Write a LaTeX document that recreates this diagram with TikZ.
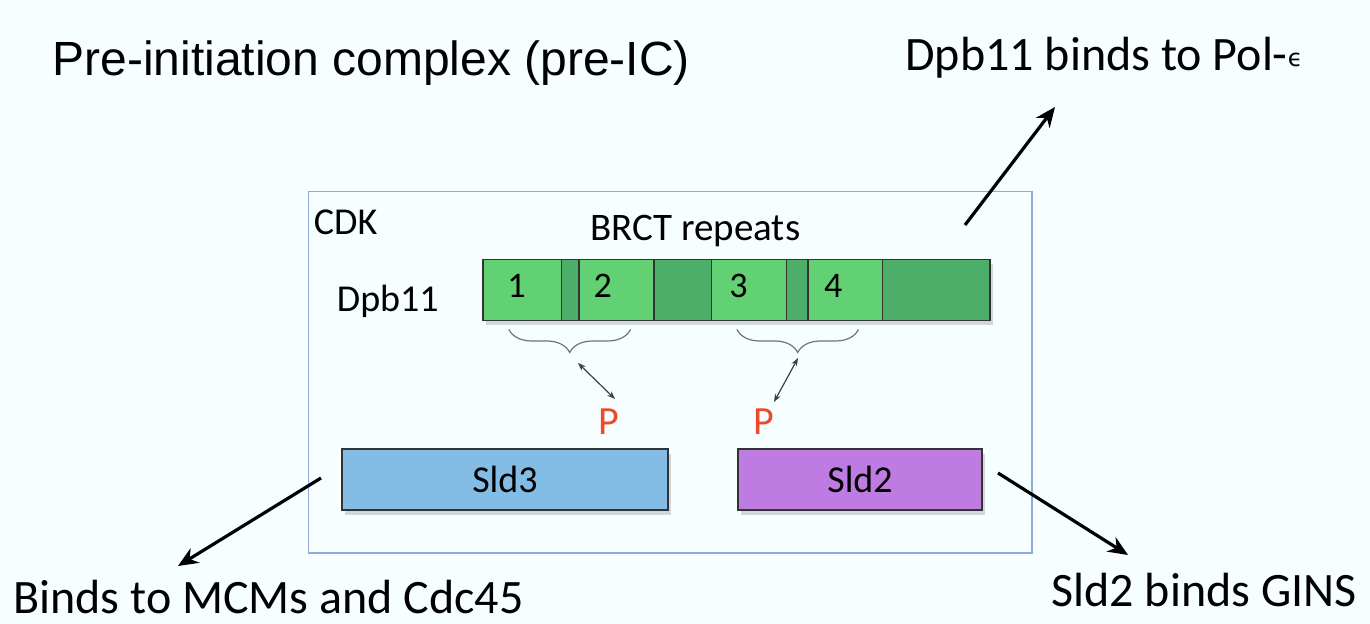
\documentclass[tikz,border=0pt]{standalone}
\usepackage{fontspec}
\setmainfont{Carlito}
\newfontfamily\arialfont{Liberation Sans}
\newfontfamily\greekfont{DejaVu Sans}
\usetikzlibrary{arrows.meta,decorations.pathreplacing,shadows}
\definecolor{bgcol}{HTML}{F6FEFF}
\definecolor{framecol}{HTML}{8FAADC}
\definecolor{lgreen}{HTML}{62D173}
\definecolor{dgreen}{HTML}{4DAE6A}
\definecolor{sldblue}{HTML}{83BDE5}
\definecolor{sldpurple}{HTML}{BE7BE2}
\definecolor{pred}{HTML}{EC4A2B}
\tikzset{
  bigarrow/.style={-{Stealth[length=10pt,width=8.5pt]}, line width=1.6pt, black},
  smallarrow/.style={{Stealth[length=4pt,width=3pt]}-{Stealth[length=4pt,width=3pt]}, line width=0.6pt, black!75},
  bracestyle/.style={decorate, decoration={brace, amplitude=11.5pt}, draw=black!55, line width=0.6pt},
  protbox/.style={draw=black!80, line width=0.7pt, minimum height=30.5pt, inner sep=0pt,
    drop shadow={opacity=0.3, shadow xshift=1.5pt, shadow yshift=-2.5pt}},
  segfill/.style={draw=black!80, line width=0.7pt},
  lab/.style={inner sep=0pt, anchor=base west},
  big/.style={font=\fontsize{24}{28}\selectfont},
  mid/.style={font=\fontsize{19}{23}\selectfont},
  num/.style={inner sep=0pt, font=\fontsize{18}{21}\selectfont},
  pstyle/.style={inner sep=0pt, text=pred, font=\fontsize{20}{24}\selectfont},
}
\begin{document}
\begin{tikzpicture}[x=0.5pt,y=-0.5pt]
\fill[bgcol] (0,0) rectangle (1370,624);
\useasboundingbox (0,0) rectangle (1370,624);

% title and outside labels
\node[lab, font=\arialfont\fontsize{24}{28}\selectfont] (title) at (52,76) {Pre-initiation complex (pre-IC)};
\node[lab, big] (polt) at (905,70.7) {Dpb11 binds to Pol-\raisebox{2pt}{\greekfont\fontsize{12}{14}\selectfont ϵ}};
\node[lab, big] (mcm) at (13,613.5) {Binds to MCMs and Cdc45};
\node[lab, big] (gins) at (1051,606.5) {Sld2 binds GINS};

% CDK frame
\draw[framecol, line width=0.6pt] (308.3,191.5) rectangle (1032,553);
\node[lab, mid] (cdk) at (313.5,235) {CDK};
\node[lab, font=\fontsize{19.5}{23}\selectfont] (brct) at (590,241) {BRCT repeats};
\node[lab, mid] (dpb) at (336.5,311.7) {Dpb11};

% Dpb11 bar
\draw[segfill, fill=dgreen, drop shadow={opacity=0.3, shadow xshift=1.5pt, shadow yshift=-2.5pt}]
  (482.8,259.5) rectangle (990,320.5);
\draw[segfill, fill=lgreen] (482.8,259.5) rectangle (561.2,320.5);
\draw[segfill, fill=lgreen] (578.8,259.5) rectangle (654.1,320.5);
\draw[segfill, fill=lgreen] (711.6,259.5) rectangle (786.6,320.5);
\draw[segfill, fill=lgreen] (807.8,259.5) rectangle (882.2,320.5);
\node[num] (n1) at (516.5,285.5) {1};
\node[num] (n2) at (602.7,285.5) {2};
\node[num] (n3) at (738.6,285.5) {3};
\node[num] (n4) at (833.2,285.5) {4};

% braces
\draw[bracestyle] (630.5,329.5) -- (508.9,329.5);
\draw[bracestyle] (858.5,329.5) -- (736.9,329.5);

% phosphates
\node[pstyle] (p1) at (608.5,421.6) {P};
\node[pstyle] (p2) at (763.9,421.6) {P};
\coordinate (b1) at (578,363);
\coordinate (b1e) at (615,399);
\coordinate (b2) at (798,358);
\coordinate (b2e) at (774,402);
\draw[smallarrow] (b1) -- (b1e);
\draw[smallarrow] (b2) -- (b2e);

% Sld3 and Sld2
\node[protbox, fill=sldblue, minimum width=163pt, mid] (sld3) at (505,479.5) {Sld3};
\node[protbox, fill=sldpurple, minimum width=122pt, mid] (sld2) at (860,479.5) {Sld2};

% big arrows
\coordinate (t1) at (965,225);
\coordinate (t1e) at (1055,107);
\draw[bigarrow] (t1) -- (t1e);
\coordinate (s3a) at (321,478);
\coordinate (s3e) at (178,566);
\draw[bigarrow] (s3a) -- (s3e);
\coordinate (s2a) at (998,473);
\coordinate (s2e) at (1128,555);
\draw[bigarrow] (s2a) -- (s2e);
\end{tikzpicture}
\end{document}
